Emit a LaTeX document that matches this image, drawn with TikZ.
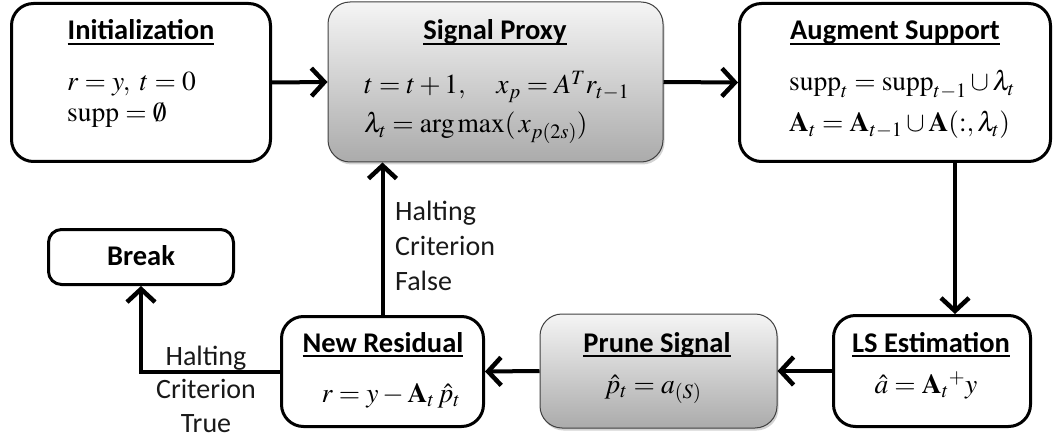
\documentclass[tikz,border=0pt]{standalone}
\usepackage{mathptmx}
\usepackage[no-math]{fontspec}
\setmainfont{Carlito}
\usetikzlibrary{arrows.meta,shadows}
\newcommand\ulb[1]{\setbox0\hbox{#1}\rlap{\rule[-4.6pt]{\wd0}{1.8pt}}\box0}
\begin{document}
\begin{tikzpicture}[x=1pt,y=-1pt,
  wbox/.style={draw=black,line width=3pt,rounded corners=22pt,fill=white,inner sep=0pt},
  gbox/.style={draw=black!75,line width=1pt,rounded corners=22pt,inner sep=0pt,
     top color=black!4,bottom color=black!33,
     drop shadow={shadow xshift=1.5pt,shadow yshift=-2.5pt,opacity=0.35}},
  ttl/.style={font=\fontsize{28.5}{32}\selectfont\bfseries,inner sep=0pt},
  mth/.style={font=\fontsize{27.5}{31}\selectfont,inner sep=0pt},
  lbl/.style={font=\fontsize{28}{32}\selectfont,inner sep=0pt,text=black!90},
  arr/.style={line width=4pt,-{Straight Barb[length=13pt,width=28pt,line width=4.5pt]}}
]
\useasboundingbox (0,0) rectangle (1055,441);
% boxes
\node[wbox,minimum width=259pt,minimum height=158pt] (init) at (141,82.5) {};
\node[gbox,minimum width=335pt,minimum height=160pt] (sp) at (495.5,82) {};
\node[wbox,minimum width=311pt,minimum height=158pt] (as) at (895,82.5) {};
\node[wbox,rounded corners=13pt,minimum width=185pt,minimum height=55pt] (brk) at (141,257) {};
\node[wbox,minimum width=202pt,minimum height=110pt] (nr) at (382.5,371.5) {};
\node[gbox,minimum width=237pt,minimum height=114pt] (ps) at (658.5,371) {};
\node[wbox,minimum width=197pt,minimum height=111pt] (ls) at (932,371) {};
% texts
\node[ttl,anchor=base] (initT) at (141,40) {\ulb{Initialization}};
\node[mth,anchor=base west] (initA) at (67,91) {$r=y,\ t=0$};
\node[mth,anchor=base west] (initB) at (67,122) {$\mathrm{supp}=\emptyset$};

\node[ttl,anchor=base] (spT) at (495,40) {\ulb{Signal Proxy}};
\node[mth,anchor=base west] (spA) at (364,94) {$t=t+1,\quad x_{p} = A^{T} r_{t-1}$};
\node[mth,anchor=base west] (spB) at (364,133) {$\lambda_t=\arg\max(\,x_{p(2s)})$};

\node[ttl,anchor=base] (asT) at (895,40) {\ulb{Augment Support}};
\node[mth,anchor=base west] (asA) at (789,91) {$\mathrm{supp}_t=\mathrm{supp}_{t-1}\cup\lambda_t$};
\node[mth,anchor=base west] (asB) at (789,132) {$\mathbf{A}_t=\mathbf{A}_{t-1}\cup\mathbf{A}(:,\lambda_t)$};

\node[ttl,anchor=base] (brkT) at (141,265) {Break};

\node[ttl,anchor=base] (nrT) at (383,352) {\ulb{New Residual}};
\node[mth,anchor=base] (nrA) at (391,402) {$r=y-\mathbf{A}_t\,\hat{p}_t$};

\node[ttl,anchor=base] (psT) at (657,352) {\ulb{Prune Signal}};
\node[mth,anchor=base] (psA) at (653,393) {$\hat{p}_t=a_{(S)}$};

\node[ttl,anchor=base] (lsT) at (931,352) {\ulb{LS Estimation}};
\node[mth,anchor=base] (lsA) at (926,393) {$\hat{a}=\mathbf{A}_t{}^{+}y$};

% connectors
\draw[arr] (init.east) -- (sp.west);
\draw[arr] (sp.east) -- (as.west);
\coordinate (c1) at (955,0);
\draw[arr] (as.south -| c1) -- (ls.north -| c1);
\draw[arr] (ls.west) -- (ps.east);
\draw[arr] (ps.west) -- (nr.east);
\draw[arr] (nr.north) -- (sp.south -| nr.north);
\draw[arr] (nr.west) -| (brk.south);

% labels
\node[lbl,anchor=base west] (f1) at (395,220) {Halting};
\node[lbl,anchor=base west] (f2) at (395,255) {Criterion};
\node[lbl,anchor=base west] (f3) at (395,290) {False};
\node[lbl,anchor=base] (t1) at (206,365) {Halting};
\node[lbl,anchor=base] (t2) at (206,398) {Criterion};
\node[lbl,anchor=base] (t3) at (206,432) {True};
\end{tikzpicture}
\end{document}
